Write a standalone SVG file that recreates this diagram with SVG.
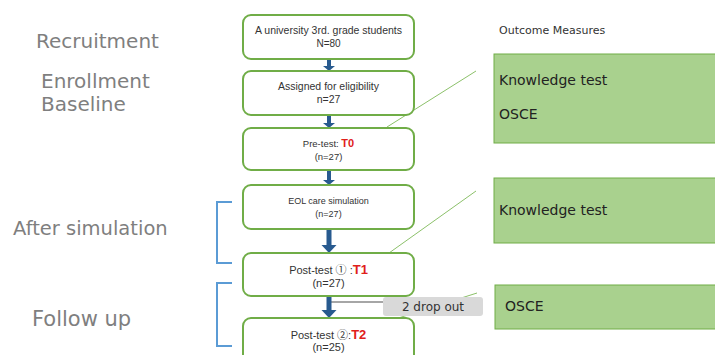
<svg xmlns="http://www.w3.org/2000/svg" width="715" height="355" viewBox="0 0 715 355">
<style>
.box{fill:#ffffff;stroke:#70ad47;stroke-width:2}
.om{fill:#a9d18e;stroke:#70ad47;stroke-width:1}
.bt{font-family:"Liberation Sans","Noto Sans CJK JP",sans-serif;fill:#333333;text-anchor:middle}
.red{fill:#e0201b;font-weight:bold}
.lab{font-family:"DejaVu Sans",sans-serif;fill:#7f7f7f}
.omt{font-family:"DejaVu Sans",sans-serif;fill:#222222;font-size:14px}
.arr{fill:#285a8f}
.br{fill:none;stroke:#5b9bd5;stroke-width:2}
.gl{stroke:#8cc16a;stroke-width:1}
</style>
<rect width="715" height="355" fill="#ffffff"/>

<g id="phase-labels">
<text class="lab" x="36" y="48" font-size="20">Recruitment</text>
<text class="lab" x="41" y="88" font-size="20">Enrollment</text>
<text class="lab" x="41" y="111" font-size="20">Baseline</text>
<text class="lab" x="13" y="235" font-size="19.5">After simulation</text>
<text class="lab" x="32" y="326" font-size="21">Follow up</text>
</g>

<g id="brackets">
<path class="br" d="M232,202 H217 V263 H232"/>
<path class="br" d="M232,283 H217 V346 H232"/>
</g>

<g id="connectors">
<line class="gl" x1="387" y1="127" x2="476" y2="71"/>
<line class="gl" x1="389" y1="253" x2="476" y2="191"/>
<line class="gl" x1="389" y1="321" x2="477" y2="293"/>
<line x1="330" y1="302" x2="384" y2="302" stroke="#a6a6a6" stroke-width="2"/>
<path class="arr" d="M327,59 h4 v7 h4 l-6,5 l-6,-5 h4 z"/>
<path class="arr" d="M327,115 h4 v8 h4 l-6,5 l-6,-5 h4 z"/>
<path class="arr" d="M327,170 h4 v10 h4 l-6,5 l-6,-5 h4 z"/>
<path class="arr" d="M326.5,229 h5 v16 h5 l-7.5,8 l-7.5,-8 h5 z"/>
<path class="arr" d="M326.5,296 h5 v14 h5 l-7.5,8 l-7.5,-8 h5 z"/>
</g>

<g id="n1">
<rect class="box" x="243" y="15" width="171" height="44" rx="8"/>
<text class="bt" x="328.5" y="34" font-size="10.5">A university 3rd. grade students</text>
<text class="bt" x="328.5" y="47" font-size="10">N=80</text>
</g>
<g id="n2">
<rect class="box" x="243" y="71" width="171" height="44" rx="8"/>
<text class="bt" x="328.5" y="90" font-size="10.5">Assigned for eligibility</text>
<text class="bt" x="328.5" y="103" font-size="10.5">n=27</text>
</g>
<g id="n3">
<rect class="box" x="243" y="128" width="171" height="42" rx="8"/>
<text class="bt" x="328.5" y="147" font-size="9.5">Pre-test: <tspan class="red" font-size="11">T0</tspan></text>
<text class="bt" x="328.5" y="160" font-size="9.5">(n=27)</text>
</g>
<g id="n4">
<rect class="box" x="243" y="185" width="171" height="44" rx="8"/>
<text class="bt" x="328.5" y="204" font-size="9">EOL care simulation</text>
<text class="bt" x="328.5" y="217" font-size="9">(n=27)</text>
</g>
<g id="n5">
<rect class="box" x="243" y="253" width="171" height="43" rx="8"/>
<text class="bt" x="328.5" y="274" font-size="11">Post-test ① :<tspan class="red" font-size="13">T1</tspan></text>
<text class="bt" x="328.5" y="287" font-size="11">(n=27)</text>
</g>
<g id="n6">
<rect class="box" x="243" y="318" width="171" height="50" rx="8"/>
<text class="bt" x="328.5" y="339" font-size="11">Post-test ②:<tspan class="red" font-size="13">T2</tspan></text>
<text class="bt" x="328.5" y="351" font-size="11">(n=25)</text>
</g>

<g id="dropout">
<rect x="383" y="297" width="100" height="19" rx="3" fill="#d9d9d9"/>
<text x="433" y="311" font-family="DejaVu Sans,sans-serif" font-size="12" fill="#333333" text-anchor="middle">2 drop out</text>
</g>

<g id="outcome-title">
<text x="499" y="34" font-family="DejaVu Sans,sans-serif" font-size="11" fill="#333333">Outcome Measures</text>
</g>
<g id="om1">
<rect class="om" x="494" y="54" width="230" height="89"/>
<text class="omt" x="499" y="85">Knowledge test</text>
<text class="omt" x="499" y="119">OSCE</text>
</g>
<g id="om2">
<rect class="om" x="494" y="178" width="230" height="65"/>
<text class="omt" x="499" y="215">Knowledge test</text>
</g>
<g id="om3">
<rect class="om" x="495" y="285" width="230" height="44"/>
<text class="omt" x="505" y="311">OSCE</text>
</g>
</svg>
